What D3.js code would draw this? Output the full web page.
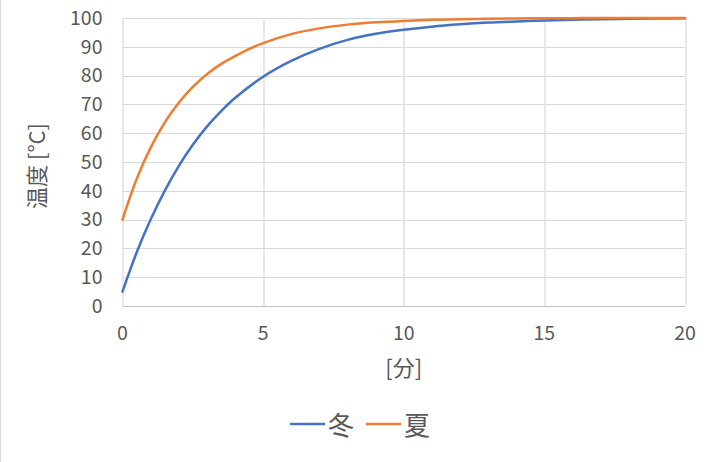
<!DOCTYPE html>
<meta charset="utf-8">
<script src="https://d3js.org/d3.v7.min.js"></script>
<style>
  body { margin: 0; background: #fff; }
  text { font-family: "Noto Sans CJK JP", "Noto Sans", sans-serif; fill: #595959; }
</style>
<div id="chart"></div>
<script>

// minutes and temperatures
var minutes = [0, 0.5, 1, 1.5, 2, 2.5, 3, 3.5, 4, 5, 6, 7, 8, 9, 10, 11, 12, 13, 14, 15, 16, 17, 18, 19, 20];
var winter  = [5, 18.5, 30, 40, 48.6, 56, 62.3, 67.6, 72.2, 79.6, 85.1, 89.3, 92.4, 94.5, 95.9, 97, 97.8, 98.4, 98.8, 99.1, 99.4, 99.6, 99.7, 99.8, 99.9];
var summer  = [30, 44, 55, 63.7, 70.6, 76.1, 80.5, 84, 86.8, 91.3, 94.4, 96.4, 97.7, 98.5, 99, 99.35, 99.6, 99.75, 99.85, 99.9, 99.95, 100, 100, 100, 100];
var seriesNames = ["冬", "夏"];
var xTicks = [0, 5, 10, 15, 20];
var yTicks = [0, 10, 20, 30, 40, 50, 60, 70, 80, 90, 100];

var W = 716, H = 462;
var margin = {top: 18, right: 31, bottom: 156, left: 122.5};
var width = W - margin.left - margin.right,
    height = H - margin.top - margin.bottom;

var colors = ["#4472C4", "#ED7D31"];

var svg = d3.select("#chart")
  .append("svg")
    .attr("width", W)
    .attr("height", H);

// outer chart frame edge on the left
svg.append("line")
  .attr("x1", 0.5).attr("x2", 0.5)
  .attr("y1", 0).attr("y2", H)
  .attr("stroke", "#d9d9d9");

var g = svg.append("g")
  .attr("transform", "translate(" + margin.left + "," + margin.top + ")");

var x = d3.scaleLinear().domain([0, 20]).range([0, width]);
var y = d3.scaleLinear().domain([0, 100]).range([height, 0]);

// grid
g.selectAll(".hgrid")
  .data(yTicks)
  .enter().append("line")
    .attr("x1", 0).attr("x2", width)
    .attr("y1", function(d) { return Math.round(y(d)) + 0.5; })
    .attr("y2", function(d) { return Math.round(y(d)) + 0.5; })
    .attr("stroke", function(d) { return d === 0 ? "#bfbfbf" : "#d9d9d9"; })
    .attr("stroke-width", 1.2);

g.selectAll(".vgrid")
  .data(xTicks)
  .enter().append("line")
    .attr("x1", function(d) { return Math.round(x(d)) + 0.5; })
    .attr("x2", function(d) { return Math.round(x(d)) + 0.5; })
    .attr("y1", 0).attr("y2", height)
    .attr("stroke", "#d9d9d9")
    .attr("stroke-width", 1.2);

// tick labels
g.selectAll(".ylab")
  .data(yTicks)
  .enter().append("text")
    .attr("x", -20)
    .attr("y", function(d) { return y(d); })
    .attr("dy", "0.35em")
    .attr("text-anchor", "end")
    .style("font-size", "19.5px")
    .text(function(d) { return d; });

g.selectAll(".xlab")
  .data(xTicks)
  .enter().append("text")
    .attr("x", function(d) { return x(d); })
    .attr("y", height + 27)
    .attr("dy", "0.35em")
    .attr("text-anchor", "middle")
    .style("font-size", "19.5px")
    .text(function(d) { return d; });

// axis titles
svg.append("text")
  .attr("transform", "translate(37,166) rotate(-90)")
  .attr("text-anchor", "middle")
  .attr("dy", "0.35em")
  .style("font-size", "22px")
  .text("温度 [°C]");

svg.append("text")
  .attr("x", margin.left + width / 2)
  .attr("y", 368)
  .attr("dy", "0.35em")
  .attr("text-anchor", "middle")
  .style("font-size", "22px")
  .text("[分]");

// lines
var line = d3.line()
  .x(function(d) { return x(d[0]); })
  .y(function(d) { return y(d[1]); })
  .curve(d3.curveCatmullRom.alpha(0.5));

[winter, summer].forEach(function(vals, i) {
  g.append("path")
    .datum(minutes.map(function(m, j) { return [m, vals[j]]; }))
    .attr("fill", "none")
    .attr("stroke", colors[i])
    .attr("stroke-width", 2.5)
    .attr("stroke-linecap", "round")
    .attr("d", line);
});

// legend
var legendX = [290, 366];
seriesNames.forEach(function(name, i) {
  svg.append("line")
    .attr("x1", legendX[i]).attr("x2", legendX[i] + 35)
    .attr("y1", 424).attr("y2", 424)
    .attr("stroke", colors[i])
    .attr("stroke-width", 2.5);
  svg.append("text")
    .attr("x", legendX[i] + 38)
    .attr("y", 426)
    .attr("dy", "0.35em")
    .style("font-size", "26px")
    .text(name);
});

</script>
